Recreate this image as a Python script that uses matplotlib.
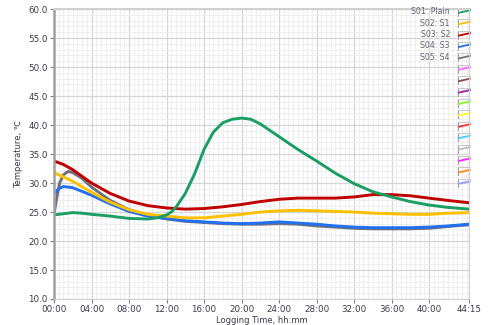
import numpy as np
import matplotlib
matplotlib.use("Agg")
import matplotlib.pyplot as plt
from matplotlib.lines import Line2D
from matplotlib.ticker import MultipleLocator, FixedLocator

# logging time in hours, temperature in degC
s01_t = [0, 1, 2, 3, 4, 6, 8, 10, 11, 12, 12.5, 13, 14, 15, 16, 17, 18, 19, 20, 21,
         22, 23, 24, 26, 28, 30, 32, 34, 36, 38, 40, 42, 44.25]
s01_v = [24.5, 24.7, 24.9, 24.8, 24.6, 24.3, 23.9, 23.8, 24.0, 24.5, 25.0, 25.8, 28.2, 31.6,
         35.8, 38.8, 40.4, 41.0, 41.2, 41.0, 40.2, 39.1, 38.0, 35.8, 33.8, 31.7, 29.9, 28.5,
         27.6, 26.8, 26.2, 25.8, 25.5]

s02_t = [0, 2, 4, 6, 8, 10, 12, 14, 16, 18, 20, 22, 24, 26, 28, 30, 32, 34, 36, 38, 40, 42, 44.25]
s02_v = [31.8, 30.3, 28.4, 26.7, 25.4, 24.6, 24.3, 24.0, 24.0, 24.3, 24.6, 25.0, 25.2, 25.3,
         25.2, 25.1, 25.0, 24.8, 24.7, 24.6, 24.6, 24.8, 24.9]

s03_t = [0, 1, 2, 4, 6, 8, 10, 12, 14, 16, 18, 20, 22, 24, 26, 28, 30, 32, 34, 36, 38, 40, 42, 44.25]
s03_v = [33.8, 33.2, 32.3, 30.0, 28.2, 26.9, 26.1, 25.7, 25.5, 25.6, 25.9, 26.3, 26.8, 27.2,
         27.4, 27.4, 27.4, 27.6, 28.0, 28.0, 27.8, 27.4, 27.0, 26.6]

s04_t = [0, 0.5, 1, 2, 4, 6, 8, 10, 12, 14, 16, 18, 20, 22, 24, 26, 28, 30, 32, 34, 36, 38,
         40, 42, 44.25]
s04_v = [28.1, 29.0, 29.4, 29.2, 27.9, 26.4, 25.1, 24.3, 23.9, 23.5, 23.3, 23.1, 23.0, 23.1,
         23.3, 23.1, 22.9, 22.6, 22.4, 22.3, 22.3, 22.3, 22.4, 22.6, 22.9]

s05_t = [0, 0.3, 0.6, 1.0, 1.5, 2, 3, 4, 6, 8, 10, 12, 14, 16, 18, 20, 22, 24, 26, 28, 30,
         32, 34, 36, 38, 40, 42, 44.25]
s05_v = [24.6, 27.5, 30.0, 31.4, 32.0, 31.8, 30.8, 29.3, 27.0, 25.4, 24.4, 23.8, 23.4, 23.2,
         23.0, 22.9, 22.9, 23.0, 22.9, 22.6, 22.4, 22.2, 22.1, 22.1, 22.1, 22.2, 22.5, 22.8]

x_ticks = [0, 4, 8, 12, 16, 20, 24, 28, 32, 36, 40, 44.25]
x_labels = ["00:00", "04:00", "08:00", "12:00", "16:00", "20:00", "24:00", "28:00",
            "32:00", "36:00", "40:00", "44:15"]

legend_names = ["S01: Plain", "S02: S1", "S03: S2", "S04: S3", "S05: S4"]
legend_colors = ["#1a9e64", "#ffc000", "#c00000", "#2070f0", "#70707e",
                 "#ff66ff", "#8b4a4a", "#a020a0", "#80ff20", "#ffff30", "#ff3030",
                 "#40d0ff", "#c0c0c0", "#ff20ff", "#ff8c20", "#9999ff"]

fig = plt.figure(figsize=(4.94, 3.25), dpi=100)
ax = fig.add_axes([0.1093, 0.08, 0.840, 0.892])

txt = "#3a3a4a"
ax.set_xlim(0, 44.25)
ax.set_ylim(10, 60)
ax.xaxis.set_major_locator(FixedLocator(x_ticks))
ax.set_xticklabels(x_labels)
ax.xaxis.set_minor_locator(MultipleLocator(0.5))
ax.yaxis.set_major_locator(MultipleLocator(5))
ax.yaxis.set_minor_locator(MultipleLocator(1))
ax.set_yticklabels([f"{v:.1f}" for v in ax.get_yticks()])

ax.grid(which="major", color="#d6d6d6", lw=0.9)
ax.grid(which="minor", color="#ededed", lw=0.6)
ax.set_axisbelow(True)

ax.tick_params(which="major", length=3, width=0.8, color="#808080", labelsize=6.3,
               labelcolor=txt, pad=1.5)
ax.tick_params(which="minor", length=0)
for side in ["top", "right", "bottom"]:
    ax.spines[side].set_color("#cfcfcf")
ax.spines["top"].set_linewidth(1.5)
ax.spines["left"].set_color("#a0a0a0")
ax.spines["left"].set_linewidth(1.8)

lw = 2.1
ax.plot(s05_t, s05_v, color=legend_colors[4], lw=lw)
ax.plot(s04_t, s04_v, color=legend_colors[3], lw=lw)
ax.plot(s02_t, s02_v, color=legend_colors[1], lw=lw)
ax.plot(s03_t, s03_v, color=legend_colors[2], lw=lw)
ax.plot(s01_t, s01_v, color=legend_colors[0], lw=lw)

ax.set_xlabel("Logging Time, hh:mm", fontsize=6, color=txt, labelpad=1)
ax.set_ylabel("Temperature, \u2103", fontsize=6, color=txt, labelpad=4)

# legend column with small line icons on the right edge
px_w, px_h = 415.0, 290.0
for i, c in enumerate(legend_colors):
    yc = 1 - (2.7 + 11.4 * i) / px_h
    x0 = (458 - 54) / px_w
    x1 = (470 - 54) / px_w
    ax.add_line(Line2D([x0, x0], [yc - 4 / px_h, yc + 4 / px_h], transform=ax.transAxes,
                       color="#9a9a9a", lw=0.7, clip_on=False))
    ax.add_line(Line2D([x0, x1], [yc + 4 / px_h, yc + 4 / px_h], transform=ax.transAxes,
                       color="#c8c8c8", lw=0.7, clip_on=False))
    ax.add_line(Line2D([x0 + 1 / px_w, x1], [yc - 1 / px_h, yc + 1.5 / px_h],
                       transform=ax.transAxes, color=c, lw=1.3, clip_on=False))
    if i < len(legend_names):
        ax.text((450 - 54) / px_w, yc, legend_names[i], transform=ax.transAxes,
                ha="right", va="center", fontsize=5.6, color="#606070")

fig.savefig("out.png", dpi=100)
